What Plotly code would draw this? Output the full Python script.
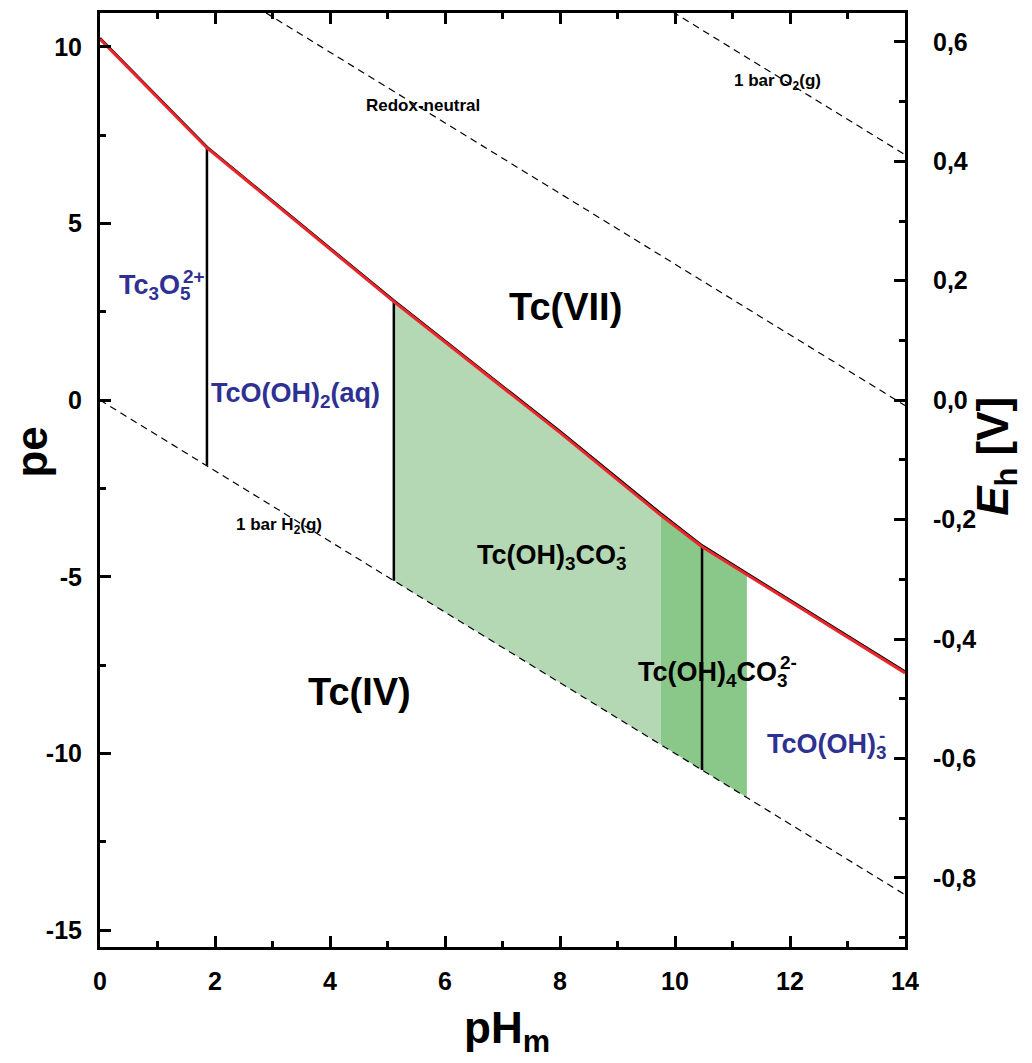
import numpy as np
import plotly.graph_objects as go

# Tc(VII)/Tc(IV) redox boundary (black trace and red model trace)
ph_bound = [0.0, 1.86, 5.11, 8.0, 9.75, 10.47, 14.0]
pe_bound_black = [10.25, 7.17, 2.82, -0.88, -3.20, -4.11, -7.68]
pe_bound_red = [10.22, 7.14, 2.79, -0.92, -3.25, -4.15, -7.72]

# Water stability / redox-neutral lines (pe vs pH)
ph_h2 = [0.0, 14.0]
pe_h2 = [0.0, -14.0]
ph_o2 = [8.0, 14.0]
pe_o2 = [12.95, 6.95]
ph_neutral = [2.0, 14.0]
pe_neutral = [11.85, -0.15]

# Tc(IV) predominance boundaries
ph_vertical = [1.86, 5.11, 10.47]

# Carbonate complex fields
ph_field_light = [5.11, 9.75]
ph_field_dark = [9.75, 11.25]

# Axis ticks
x_ticks = [0, 2, 4, 6, 8, 10, 12, 14]
pe_ticks = [-15, -10, -5, 0, 5, 10]
eh_ticks = [-0.8, -0.6, -0.4, -0.2, 0.0, 0.2, 0.4, 0.6]
eh_ticklabels = ["-0,8", "-0,6", "-0,4", "-0,2", "0,0", "0,2", "0,4", "0,6"]

PE_RANGE = [-15.48, 10.96]
EH_PER_PE = 0.05916

FONT = "Arial, Liberation Sans, sans-serif"
BLUE = "#2e3192"
LIGHT_GREEN = "#b3d8b3"
DARK_GREEN = "#89c889"


def h2_line(ph):
    return float(np.interp(ph, ph_h2, pe_h2))


def boundary(ph):
    return float(np.interp(ph, ph_bound, pe_bound_black))


def field_polygon(ph_lo, ph_hi):
    xs_top = [ph_lo] + [p for p in ph_bound if ph_lo < p < ph_hi] + [ph_hi]
    ys_top = [boundary(p) for p in xs_top]
    xs = xs_top + [ph_hi, ph_lo, ph_lo]
    ys = ys_top + [h2_line(ph_hi), h2_line(ph_lo), ys_top[0]]
    return xs, ys


fig = go.Figure()

for (lo, hi), col in [(ph_field_light, LIGHT_GREEN), (ph_field_dark, DARK_GREEN)]:
    xs, ys = field_polygon(lo, hi)
    fig.add_trace(go.Scatter(x=xs, y=ys, mode="lines", fill="toself",
                             fillcolor=col, line=dict(width=0),
                             hoverinfo="skip", showlegend=False))

dash = dict(color="black", width=1.2, dash="7px,5px")
for xs, ys in [(ph_h2, pe_h2), (ph_o2, pe_o2), (ph_neutral, pe_neutral)]:
    fig.add_trace(go.Scatter(x=xs, y=ys, mode="lines", line=dash,
                             showlegend=False, hoverinfo="skip"))

for ph in ph_vertical:
    fig.add_trace(go.Scatter(x=[ph, ph], y=[boundary(ph), h2_line(ph)],
                             mode="lines", line=dict(color="black", width=2.5),
                             showlegend=False, hoverinfo="skip"))

fig.add_trace(go.Scatter(x=ph_bound, y=pe_bound_black, mode="lines",
                         line=dict(color="black", width=2.4),
                         showlegend=False, hoverinfo="skip"))
fig.add_trace(go.Scatter(x=ph_bound, y=pe_bound_red, mode="lines",
                         line=dict(color="#e8262b", width=3),
                         showlegend=False, hoverinfo="skip"))

# Invisible trace to bind the Eh axis
fig.add_trace(go.Scatter(x=[0], y=[0], yaxis="y2", mode="markers",
                         marker=dict(opacity=0), showlegend=False,
                         hoverinfo="skip"))


def label(x, y, text, size, color="black", xanchor="center"):
    fig.add_annotation(x=x, y=y, xref="x", yref="y", text=text,
                       showarrow=False, xanchor=xanchor, yanchor="middle",
                       font=dict(family=FONT, size=size, color=color,
                                 weight="bold"))


def chem(x_right, y, main, sup, size, color, sub_w, sup_shift):
    # main formula is right-anchored; the charge is stacked above the last subscript
    label(x_right, y, main, size, color, xanchor="right")
    fig.add_annotation(x=x_right, y=y, xref="x", yref="y", text=sup,
                       showarrow=False, xanchor="left", yanchor="middle",
                       xshift=-sub_w, yshift=sup_shift,
                       font=dict(family=FONT, size=round(size * 0.7),
                                 color=color, weight="bold"))


label(8.10, 2.65, "Tc(VII)", 38)
label(4.52, -8.25, "Tc(IV)", 38)
label(1.90, 0.15, "TcO(OH)<sub>2</sub>(aq)", 27, BLUE, xanchor="left")
chem(1.62, 3.2, "Tc<sub>3</sub>O<sub>5</sub>", "2+", 27, BLUE, 12, 11)
chem(9.20, -4.45, "Tc(OH)<sub>3</sub>CO<sub>3</sub>", "-", 27, "black", 12, 11)
chem(12.0, -7.75, "Tc(OH)<sub>4</sub>CO<sub>3</sub>", "2-", 27, "black", 12, 11)
chem(13.72, -9.8, "TcO(OH)<sub>3</sub>", "-", 27, BLUE, 12, 11)

label(5.62, 8.33, "Redox-neutral", 17)
label(11.79, 9.02, "1 bar O<sub>2</sub>(g)", 17)
label(3.11, -3.56, "1 bar H<sub>2</sub>(g)", 17)

# Axis titles
title_font = dict(family=FONT, size=44, color="black", weight="bold")
fig.add_annotation(x=-0.085, y=0.53, xref="paper", yref="paper", text="pe",
                   showarrow=False, textangle=-90, font=title_font,
                   xanchor="center", yanchor="middle")
fig.add_annotation(x=0.505, y=-0.09, xref="paper", yref="paper",
                   text="pH<sub>m</sub>", showarrow=False, font=title_font,
                   xanchor="center", yanchor="middle")
fig.add_annotation(x=1.112, y=0.525, xref="paper", yref="paper",
                   text="<i>E</i><sub>h</sub> [V]", showarrow=False,
                   textangle=-90, font=title_font,
                   xanchor="center", yanchor="middle")

tickfont = dict(family=FONT, size=25, color="black", weight="bold")
axis_common = dict(showgrid=False, zeroline=False, showline=True,
                   linecolor="black", linewidth=3, ticks="inside",
                   ticklen=11, tickwidth=2.5, tickcolor="black",
                   tickfont=tickfont)

fig.update_layout(
    width=1032, height=1063,
    margin=dict(l=100, r=127, t=13, b=116, autoexpand=False),
    paper_bgcolor="white", plot_bgcolor="white",
    showlegend=False,
    xaxis=dict(range=[0, 14], tickvals=x_ticks, mirror="ticks",
               minor=dict(dtick=1, tick0=0, ticks="inside", ticklen=6,
                          tickwidth=2.5, tickcolor="black"),
               ticklabelstandoff=10, **axis_common),
    yaxis=dict(range=PE_RANGE, tickvals=pe_ticks,
               ticktext=[str(v) for v in pe_ticks],
               minor=dict(dtick=2.5, tick0=0, ticks="inside", ticklen=6,
                          tickwidth=2.5, tickcolor="black"),
               ticklabelstandoff=10, **axis_common),
    yaxis2=dict(range=[PE_RANGE[0] * EH_PER_PE, PE_RANGE[1] * EH_PER_PE],
                overlaying="y", side="right", anchor="x",
                tickvals=eh_ticks, ticktext=eh_ticklabels,
                minor=dict(dtick=0.1, tick0=0, ticks="inside", ticklen=6,
                           tickwidth=2.5, tickcolor="black"),
                ticklabelstandoff=20, **axis_common),
)

fig.write_html("out.html")
